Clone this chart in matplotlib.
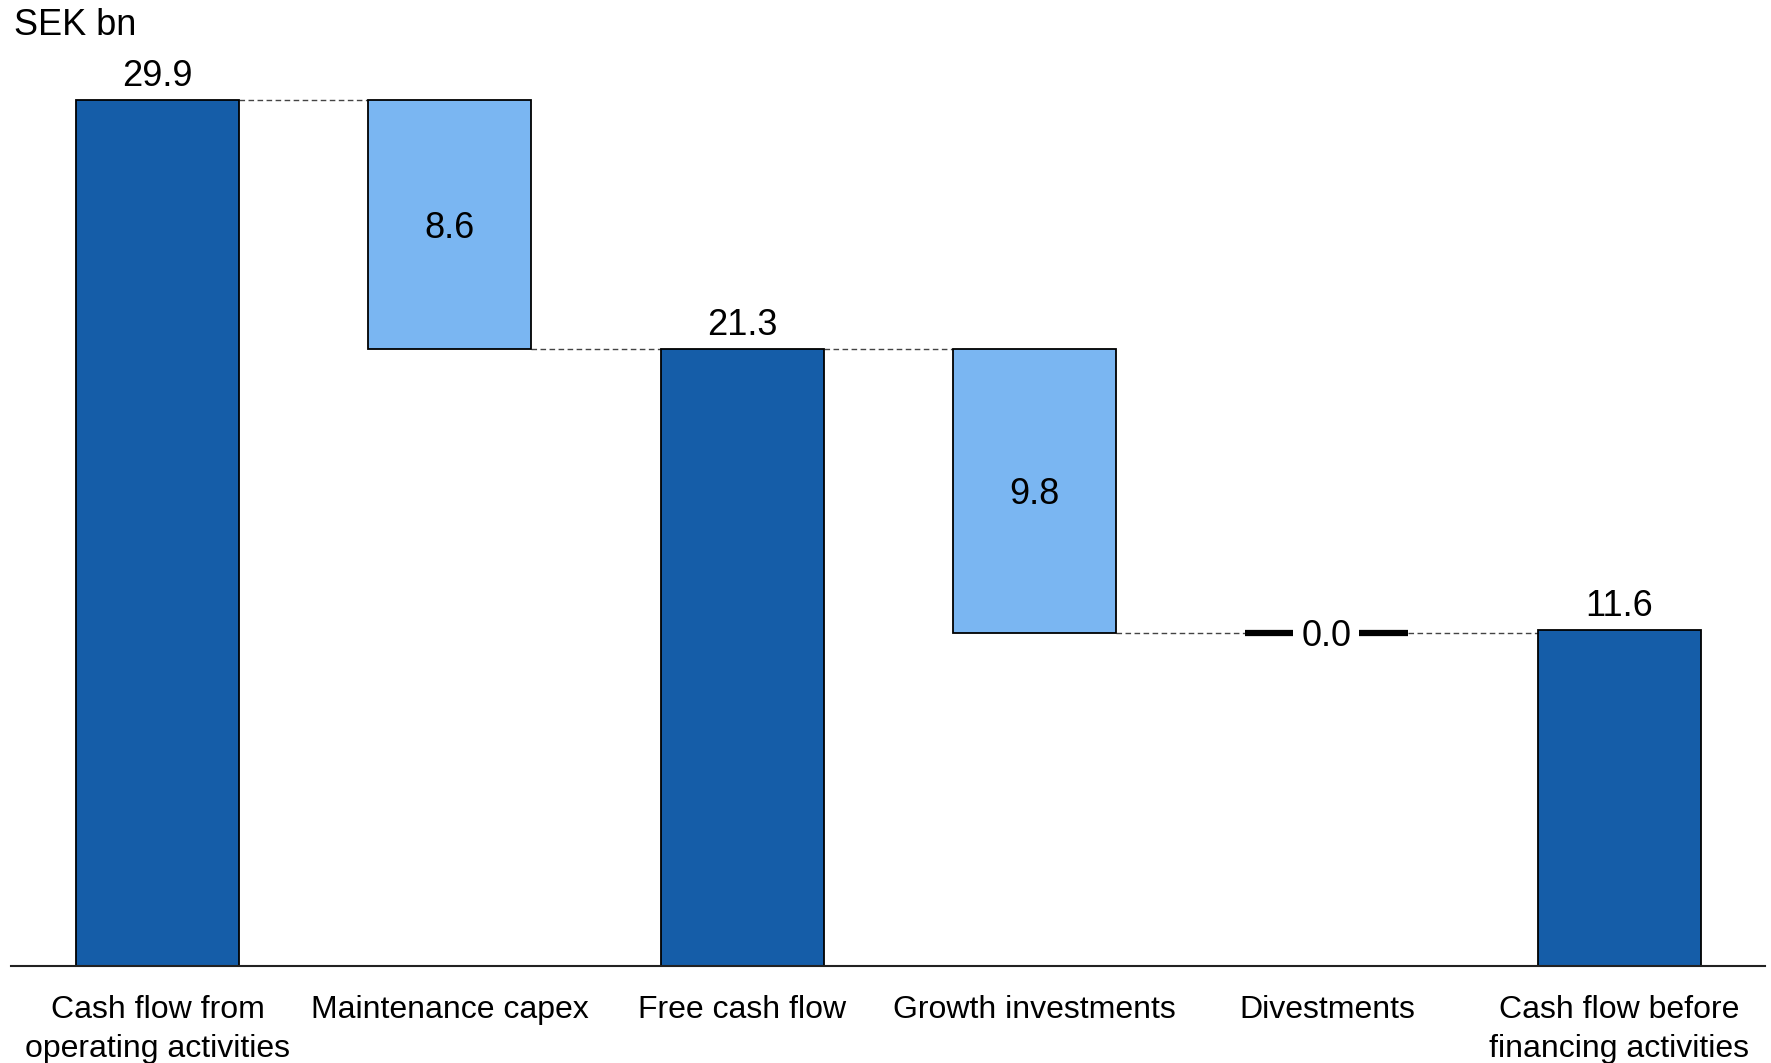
import matplotlib.pyplot as plt

plt.rcParams['font.family'] = ['Liberation Sans', 'DejaVu Sans']

# === data ===
categories = ["Cash flow from\noperating activities", "Maintenance capex", "Free cash flow",
              "Growth investments", "Divestments", "Cash flow before\nfinancing activities"]
values = [29.9, -8.6, 21.3, -9.8, 0.0, 11.6]
is_total = [True, False, True, False, False, True]
labels = ["29.9", "8.6", "21.3", "9.8", "0.0", "11.6"]

DARK = "#155DA8"
LIGHT = "#7AB6F2"
W = 0.557

fig = plt.figure(figsize=(17.71, 10.63), dpi=100)
ax = fig.add_axes([0.0064, 0.0913, 0.9904, 0.8992])

# running level for the waterfall
bottoms, tops = [], []
level = 0.0
for v, tot in zip(values, is_total):
    if tot:
        b, t = 0.0, v
        level = v
    else:
        b, t = level + min(v, 0), level + max(v, 0)
        level = level + v
    bottoms.append(b)
    tops.append(t)

for i, (b, t, tot) in enumerate(zip(bottoms, tops, is_total)):
    if t - b == 0:
        # zero step: two thick dashes around the label
        ax.plot([i - W / 2, i - 0.116], [t, t], color="black", lw=4.5, solid_capstyle="butt")
        ax.plot([i + 0.109, i + W / 2], [t, t], color="black", lw=4.5, solid_capstyle="butt")
        ax.text(i, t, labels[i], ha="center", va="center_baseline", fontsize=26)
        continue
    ax.bar(i, t - b, bottom=b, width=W, color=DARK if tot else LIGHT,
           edgecolor="black", linewidth=1.3, zorder=2)
    if tot:
        ax.annotate(labels[i], (i, t), xytext=(0, 4), textcoords="offset points",
                    ha="center", va="bottom", fontsize=26)
    else:
        ax.text(i, (b + t) / 2, labels[i], ha="center", va="center_baseline", fontsize=26)

# dashed connectors between bars
for i in range(len(values) - 1):
    lvl = tops[i] if (is_total[i] or values[i] >= 0) else bottoms[i]
    ax.plot([i + W / 2, i + 1 - W / 2], [lvl, lvl], color="#444444", lw=1,
            ls=(0, (4, 2.5)), zorder=1)

ax.set_xlim(-0.5, 5.5)
ax.set_ylim(0, 33)
ax.set_xticks(range(len(categories)))
ax.set_xticklabels(categories, fontsize=23, linespacing=1.4)
ax.tick_params(axis="x", length=0, pad=21)
ax.set_yticks([])
for s in ["top", "right", "left"]:
    ax.spines[s].set_visible(False)
ax.spines["bottom"].set_linewidth(1.5)
ax.spines["bottom"].set_color("#222222")

fig.text(0.008, 0.976, "SEK bn", fontsize=26, ha="left", va="center")

fig.savefig("out.png", dpi=100)
